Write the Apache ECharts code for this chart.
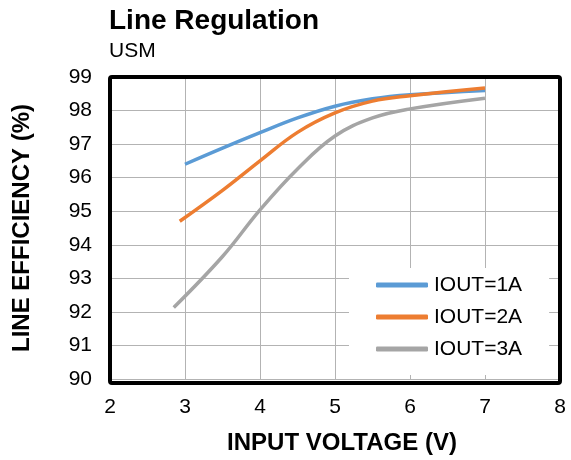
<!DOCTYPE html>
<html>
<head>
<meta charset="utf-8">
<script src="https://cdn.jsdelivr.net/npm/echarts@6/dist/echarts.min.js"></script>
<style>html,body{margin:0;padding:0;background:#fff}#c{width:571px;height:460px}</style>
</head>
<body>
<div id="c"></div>
<script>
const seriesNames = ['IOUT=1A', 'IOUT=2A', 'IOUT=3A'];
const x1 = [3, 3.5, 4, 4.5, 5, 5.5, 6, 7];
const y1 = [96.4, 96.88, 97.34, 97.78, 98.13, 98.35, 98.47, 98.6];
const x2 = [2.93, 3.5, 4, 4.5, 5, 5.5, 6, 7];
const y2 = [94.7, 95.62, 96.5, 97.35, 97.93, 98.28, 98.44, 98.67];
const x3 = [2.85, 3.5, 4, 4.5, 5, 5.5, 6, 7];
const y3 = [92.13, 93.65, 95.04, 96.26, 97.24, 97.78, 98.05, 98.37];
const colors = ['#5B9BD5', '#ED7D31', '#A5A5A5'];

const xs = [x1, x2, x3], ys = [y1, y2, y3];
const font = '"Liberation Sans", Arial, sans-serif';
const G = {left: 110, right: 11, top: 77, bottom: 77};
const chart = echarts.init(document.getElementById('c'), null, {renderer: 'canvas'});
chart.setOption({
  animation: false,
  title: {
    text: 'Line Regulation', subtext: 'USM', left: 104, top: 2, itemGap: 6,
    textStyle: {fontFamily: font, fontSize: 28, fontWeight: 'bold', color: '#000'},
    subtextStyle: {fontFamily: font, fontSize: 21, color: '#000'}
  },
  grid: {left: G.left, right: G.right, top: G.top, bottom: G.bottom, show: false},
  legend: {
    orient: 'vertical', left: 349, top: 268, backgroundColor: '#fff',
    padding: [5, 27, 14, 27], itemWidth: 52, itemHeight: 5, itemGap: 8, icon: 'roundRect',
    textStyle: {fontFamily: font, fontSize: 21, color: '#000', lineHeight: 24, padding: [0, 0, 0, 1]},
    data: seriesNames
  },
  graphic: [{
    type: 'rect', z: 100, silent: true,
    shape: {x: G.left, y: G.top, width: 571 - G.left - G.right, height: 460 - G.top - G.bottom, r: 2},
    style: {fill: null, stroke: '#000', lineWidth: 4}
  }],
  xAxis: {
    type: 'value', min: 2, max: 8, interval: 1,
    name: 'INPUT VOLTAGE (V)', nameLocation: 'middle', nameGap: 52,
    nameTextStyle: {fontFamily: font, fontSize: 24, fontWeight: 'bold', color: '#000', padding: [0, 0, 0, 14]},
    axisLine: {show: false}, axisTick: {show: false},
    axisLabel: {fontFamily: font, fontSize: 21, color: '#000', margin: 18},
    splitLine: {show: true, lineStyle: {color: '#b3b3b3', width: 1}}
  },
  yAxis: {
    type: 'value', min: 90, max: 99, interval: 1,
    name: 'LINE EFFICIENCY (%)', nameLocation: 'middle', nameGap: 76,
    nameTextStyle: {fontFamily: font, fontSize: 24, fontWeight: 'bold', color: '#000'},
    axisLine: {show: false}, axisTick: {show: false},
    axisLabel: {fontFamily: font, fontSize: 21, color: '#000', margin: 18},
    splitLine: {show: true, lineStyle: {color: '#b3b3b3', width: 1}}
  },
  series: seriesNames.map((n, i) => ({
    name: n, type: 'line', smooth: 0.4, symbol: 'none', z: 1,
    color: colors[i],
    lineStyle: {color: colors[i], width: 3.5},
    data: xs[i].map((x, j) => [x, ys[i][j]])
  }))
});
</script>
</body>
</html>
